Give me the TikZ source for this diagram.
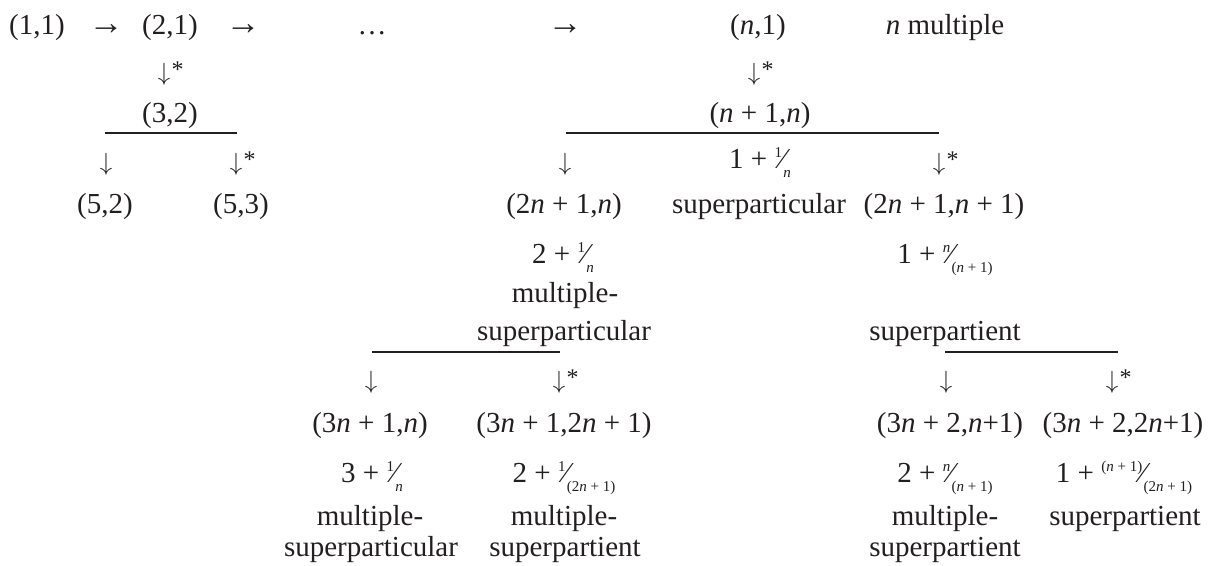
\documentclass[tikz,border=0pt]{standalone}
\usepackage{fontspec}
\setmainfont{Liberation Serif}
\definecolor{ink}{HTML}{231F20}
\newcommand\nv{\textit{n}}
\newcommand\myfr[2]{\raisebox{0.37em}{\fontsize{15}{15}\selectfont #1}\kern-0.06em\char"2044\kern-0.06em\raisebox{-0.34em}{\fontsize{15}{15}\selectfont #2}}
\newcommand\arrD{{\fontsize{27}{30}\selectfont$\downarrow$}}
\newcommand\arrDS{{\fontsize{27}{30}\selectfont$\downarrow$}\rlap{\kern1.5pt\raisebox{3pt}{\fontsize{24}{24}\selectfont *}}}
\newcommand\arrR{{\fontsize{35}{38}\selectfont →}}
\begin{document}
\begin{tikzpicture}[x=1pt,y=-1pt,
  txt/.style={anchor=base,inner sep=0pt,outer sep=0pt,font=\fontsize{29}{34}\selectfont,text=ink},
  rule/.style={draw=ink,line width=1.1pt}]
\useasboundingbox (0,0) rectangle (1214,565);
% row 1
\node[txt] (a11) at (37,34) {(1,1)};
\node[txt] (r1) at (106,34) {\arrR};
\node[txt] (a21) at (170,34) {(2,1)};
\node[txt] (r2) at (243,34) {\arrR};
\node[txt] (dots) at (372,34) {…};
\node[txt] (r3) at (565,34) {\arrR};
\node[txt] (an1) at (758,34) {(\nv,1)};
\node[txt] (nmult) at (945,34) {\nv{} multiple};
% row 2
\node[txt] (d1) at (164,80) {\arrDS};
\node[txt] (d2) at (754,80) {\arrDS};
% row 3
\node[txt] (a32) at (170,122) {(3,2)};
\node[txt] (anp) at (760,122) {(\nv{} + 1,\nv)};
\coordinate (l1a) at (105,133); \coordinate (l1b) at (237,133);
\coordinate (l2a) at (566,133); \coordinate (l2b) at (939,133);
\draw[rule] (l1a) -- (l1b);
\draw[rule] (l2a) -- (l2b);
% row 4
\node[txt] (d3) at (106,170) {\arrD};
\node[txt] (d4) at (236,170) {\arrDS};
\node[txt] (d5) at (565,170) {\arrD};
\node[txt] (f1) at (760,168) {1 + \myfr{1}{\nv}};
\node[txt] (d6) at (939,170) {\arrDS};
% row 5
\node[txt] (a52) at (105,213) {(5,2)};
\node[txt] (a53) at (241,213) {(5,3)};
\node[txt] (b1) at (564,213) {(2\nv{} + 1,\nv)};
\node[txt] (spc) at (759,213) {superparticular};
\node[txt] (b2) at (944,213) {(2\nv{} + 1,\nv{} + 1)};
% row 6
\node[txt] (f2) at (563,263) {2 + \myfr{1}{\nv}};
\node[txt] (f3) at (945,263) {1 + \myfr{\nv}{(\nv{} + 1)}};
% rows 7-8
\node[txt] (m1) at (565,302) {multiple-};
\node[txt] (s1) at (564,340) {superparticular};
\node[txt] (s2) at (945,340) {superpartient};
\coordinate (l3a) at (372,352); \coordinate (l3b) at (560,352);
\coordinate (l4a) at (945,352); \coordinate (l4b) at (1118,352);
\draw[rule] (l3a) -- (l3b);
\draw[rule] (l4a) -- (l4b);
% row 9
\node[txt] (d7) at (371,388) {\arrD};
\node[txt] (d8) at (559,388) {\arrDS};
\node[txt] (d9) at (946,388) {\arrD};
\node[txt] (d10) at (1112,388) {\arrDS};
% row 10
\node[txt] (c1) at (370,432) {(3\nv{} + 1,\nv)};
\node[txt] (c2) at (564,432) {(3\nv{} + 1,2\nv{} + 1)};
\node[txt] (c3) at (950,432) {(3\nv{} + 2,\nv+1)};
\node[txt] (c4) at (1123,432) {(3\nv{} + 2,2\nv+1)};
% row 11
\node[txt] (g1) at (372,482) {3 + \myfr{1}{\nv}};
\node[txt] (g2) at (564,482) {2 + \myfr{1}{(2\nv{} + 1)}};
\node[txt] (g3) at (945,482) {2 + \myfr{\nv}{(\nv{} + 1)}};
\node[txt] (g4) at (1124,482) {1 + \myfr{(\nv{} + 1)}{(2\nv{} + 1)}};
% rows 12-13
\node[txt] (h1) at (370,525) {multiple-};
\node[txt] (h2) at (564,525) {multiple-};
\node[txt] (h3) at (945,525) {multiple-};
\node[txt] (h4) at (1125,525) {superpartient};
\node[txt] (k1) at (371,556) {superparticular};
\node[txt] (k2) at (565,556) {superpartient};
\node[txt] (k3) at (945,556) {superpartient};
\end{tikzpicture}
\end{document}
